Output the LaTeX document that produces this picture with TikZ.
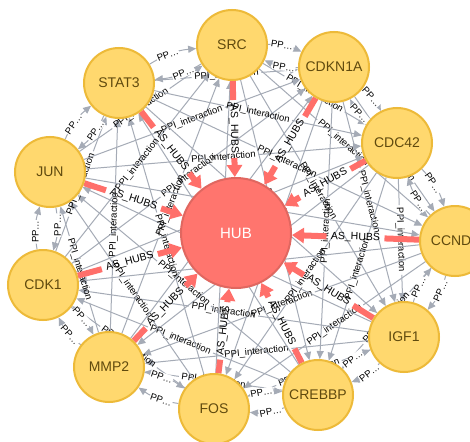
\documentclass[tikz,border=0pt]{standalone}
\usepackage{fontspec}
\setmainfont{Liberation Sans}
\usetikzlibrary{arrows.meta,calc}
\definecolor{nodefill}{HTML}{FFD86E}
\definecolor{nodeborder}{HTML}{EDBA39}
\definecolor{nodetext}{HTML}{604A0E}
\definecolor{hubfill}{HTML}{FF756E}
\definecolor{hubborder}{HTML}{E06760}
\definecolor{reledge}{HTML}{A5ABB6}
\definecolor{hubedge}{HTML}{FF6F6A}
\pgfdeclarelayer{edges}
\pgfsetlayers{edges,main}
\tikzset{
 protein/.style={circle, fill=nodefill, draw=nodeborder, line width=2pt, minimum size=70pt, inner sep=0pt, text=nodetext, font=\fontsize{14}{16}\selectfont},
 hubnode/.style={circle, fill=hubfill, draw=hubborder, line width=2pt, minimum size=110pt, inner sep=0pt, text=white, font=\fontsize{15}{17}\selectfont},
 ppi/.style={draw=reledge, line width=1pt},
 ppitip/.style={-{Triangle[length=8pt,width=7pt]}},
 hubrel/.style={draw=hubedge, line width=6pt},
 hubtip/.style={-{Triangle[length=12pt,width=15pt]}},
 rellabel/.style={font=\fontsize{9.5}{10}\selectfont, inner sep=0pt, text=black},
 shortlabel/.style={rellabel, fill=white, inner sep=0.6pt},
 hublabel/.style={font=\fontsize{10.5}{11}\selectfont, inner sep=0pt, text=black},
}
\newcommand{\ppiline}[2]{%
 \path (#1) -- (#2) coordinate[midway] (qM) node[midway, sloped, rellabel] {PPI\_interaction};
 \draw[ppi] (#1) -- ($(qM)!35pt!(#1)$);
 \draw[ppi, ppitip] ($(qM)!35pt!(#2)$) -- (#2);
}
\newcommand{\hubline}[1]{%
 \path (#1) -- (HUB) coordinate[midway] (qM) node[midway, sloped, hublabel] {AS\_HUBS};
 \draw[hubrel] (#1) -- ($(qM)!29pt!(#1)$);
 \draw[hubrel, hubtip] ($(qM)!29pt!(HUB)$) -- (HUB);
}
\begin{document}
\begin{tikzpicture}[x=1pt, y=-1pt]
\clip (0,0) rectangle (470,441);
% nodes
\node[hubnode] (HUB) at (236,233) {HUB};
\node[protein, alias=n0] (SRC) at (232,45) {SRC};
\node[protein, alias=n1] (CDKN1A) at (334,67) {CDKN1A};
\node[protein, alias=n2] (CDC42) at (397,143) {CDC42};
\node[protein, alias=n3] (CCND1) at (455,241) {CCND1};
\node[protein, alias=n4] (IGF1) at (404,337) {IGF1};
\node[protein, alias=n5] (CREBBP) at (318,395) {CREBBP};
\node[protein, alias=n6] (FOS) at (214,409) {FOS};
\node[protein, alias=n7] (MMP2) at (109,367) {MMP2};
\node[protein, alias=n8] (CDK1) at (43,285) {CDK1};
\node[protein, alias=n9] (JUN) at (50,172) {JUN};
\node[protein, alias=n10] (STAT3) at (119,83) {STAT3};
\begin{pgfonlayer}{edges}
\fill[white] (0,0) rectangle (470,441);
% long PPI edges
\foreach \i in {0,...,10}{
 \foreach \k in {2,...,5}{
  \pgfmathtruncatemacro\j{mod(\i+\k,11)}
  \ppiline{n\i}{n\j}
 }
}
% neighbour PPI edges (both directions)
\foreach \i in {0,...,10}{
 \pgfmathtruncatemacro\j{mod(\i+1,11)}
 \draw[ppi, ppitip] (n\i) to[bend left=13] node[pos=0.4, sloped, shortlabel] {PP…} (n\j);
 \draw[ppi, ppitip] (n\j) to[bend left=13] node[pos=0.4, sloped, shortlabel] {PP…} (n\i);
}
% AS_HUBS edges
\foreach \i in {0,...,10}{
 \hubline{n\i}
}
\end{pgfonlayer}
\end{tikzpicture}
\end{document}
